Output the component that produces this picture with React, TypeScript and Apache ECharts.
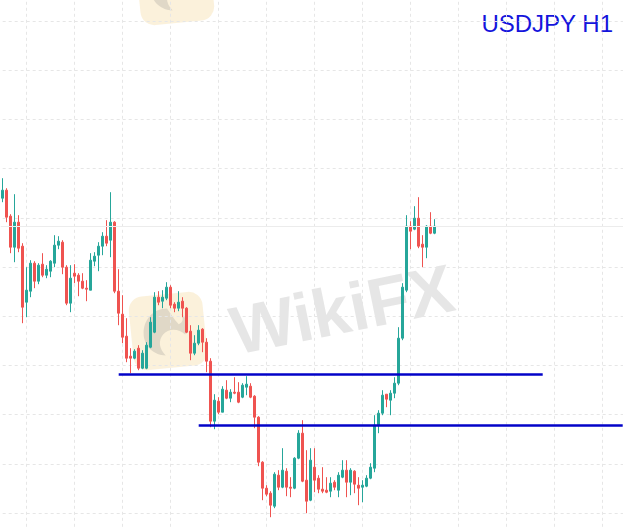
import React, { useEffect, useRef } from "react";
import * as echarts from "echarts";

// ---- data (USDJPY H1) ----
const opens = [
  143.64, 143.72, 143.46, 143.15, 143.40, 143.16, 142.60, 142.71, 142.99, 142.81,
  142.98, 142.87, 142.91, 142.99, 143.17, 143.20, 142.95, 142.59, 142.89, 142.87,
  142.81, 142.74, 142.72, 143.01, 143.07, 143.16, 143.26, 143.22, 143.40, 142.71,
  142.48, 142.26, 142.06, 142.04, 142.14, 141.94, 141.94, 142.15, 142.30, 142.65,
  142.61, 142.64, 142.75, 142.58, 142.54, 142.61, 142.54, 142.31, 142.09, 142.19,
  142.33, 142.20, 142.01, 141.41, 141.61, 141.50, 141.72, 141.64, 141.70, 141.70,
  141.65, 141.75, 141.76, 141.66, 141.45, 141.00, 140.74, 140.69, 140.56, 140.87,
  140.75, 140.91, 140.75, 140.74, 141.04, 141.29, 140.82, 140.62, 140.95, 140.84,
  140.73, 140.72, 140.71, 140.80, 140.72, 140.85, 140.92, 140.80, 140.91, 140.77,
  140.75, 140.76, 140.84, 140.94, 141.37, 141.49, 141.68, 141.62, 141.69, 141.79,
  142.24, 142.72, 143.36, 143.33, 143.44, 143.18, 143.15, 143.36, 143.29,
];
const closes = [
  143.72, 143.45, 143.15, 143.40, 143.14, 142.55, 142.72, 142.99, 142.81, 142.97,
  142.87, 142.93, 143.01, 143.17, 143.21, 142.95, 142.59, 142.84, 142.86, 142.81,
  142.74, 142.73, 143.02, 143.06, 143.16, 143.26, 143.19, 143.40, 142.71, 142.49,
  142.25, 142.04, 142.04, 142.11, 141.94, 142.09, 142.17, 142.40, 142.65, 142.60,
  142.65, 142.75, 142.57, 142.54, 142.60, 142.54, 142.30, 142.09, 142.19, 142.32,
  142.20, 142.01, 141.41, 141.62, 141.50, 141.73, 141.64, 141.70, 141.69, 141.60,
  141.77, 141.78, 141.65, 141.45, 141.00, 140.74, 140.68, 140.57, 140.88, 140.75,
  140.92, 140.75, 140.74, 141.04, 141.29, 140.81, 140.61, 141.02, 140.82, 140.73,
  140.71, 140.70, 140.79, 140.75, 140.87, 140.92, 140.80, 140.92, 140.78, 140.74,
  140.77, 140.84, 140.95, 141.37, 141.49, 141.67, 141.63, 141.69, 141.79, 142.24,
  142.75, 143.36, 143.31, 143.44, 143.16, 143.15, 143.36, 143.29, 143.36,
];
const lows = [
  143.60, 143.40, 143.09, 143.00, 143.10, 142.39, 142.45, 142.65, 142.74, 142.78,
  142.85, 142.84, 142.85, 142.95, 143.13, 142.88, 142.57, 142.50, 142.79, 142.66,
  142.73, 142.61, 142.72, 142.96, 142.91, 143.07, 143.16, 143.05, 142.69, 142.37,
  142.19, 142.00, 141.89, 142.03, 141.92, 141.93, 141.93, 142.14, 142.29, 142.57,
  142.54, 142.62, 142.54, 142.50, 142.51, 142.45, 142.29, 142.02, 142.07, 142.17,
  142.10, 141.90, 141.35, 141.33, 141.48, 141.50, 141.63, 141.60, 141.68, 141.59,
  141.64, 141.67, 141.64, 141.34, 140.96, 140.62, 140.66, 140.45, 140.54, 140.72,
  140.74, 140.66, 140.65, 140.73, 141.03, 140.80, 140.49, 140.61, 140.70, 140.69,
  140.69, 140.69, 140.65, 140.72, 140.65, 140.84, 140.65, 140.67, 140.69, 140.57,
  140.60, 140.75, 140.83, 140.90, 141.29, 141.47, 141.55, 141.47, 141.64, 141.77,
  142.22, 142.70, 143.13, 143.32, 143.14, 142.95, 143.04, 143.28, 143.28,
];
const highs = [
  143.84, 143.74, 143.48, 143.68, 143.47, 143.19, 142.95, 143.02, 143.01, 142.99,
  143.09, 142.97, 143.02, 143.27, 143.26, 143.22, 142.97, 142.97, 142.98, 142.89,
  142.89, 142.82, 143.09, 143.10, 143.20, 143.30, 143.42, 143.70, 143.41, 142.93,
  142.67, 142.44, 142.14, 142.13, 142.17, 142.12, 142.20, 142.45, 142.70, 142.71,
  142.72, 142.80, 142.77, 142.60, 142.71, 142.65, 142.55, 142.37, 142.27, 142.37,
  142.34, 142.24, 142.04, 141.68, 141.65, 141.76, 141.82, 141.73, 141.85, 141.80,
  141.79, 141.86, 141.79, 141.67, 141.46, 141.01, 140.77, 140.71, 140.90, 140.92,
  141.14, 140.94, 140.85, 141.05, 141.32, 141.42, 141.12, 141.14, 141.14, 140.87,
  140.95, 140.85, 140.85, 140.82, 140.90, 141.02, 141.02, 140.94, 140.92, 140.85,
  140.82, 140.87, 140.99, 141.47, 141.52, 141.72, 141.68, 141.72, 141.85, 142.35,
  142.79, 143.47, 143.41, 143.56, 143.65, 143.27, 143.37, 143.50, 143.43,
];

// horizontal levels drawn on the chart
const levelPrices = [141.88, 141.37];
const levelStartIdx = [29, 49];
const levelEndIdx = [135, 155];

const titleText = "USDJPY H1";

// hourly categories (extra empty slots on the right)
const SLOT_COUNT = 156;
const categories: string[] = [];
for (let i = 0; i < SLOT_COUNT; i++) {
  const day = 2 + Math.floor(i / 24);
  const hour = i % 24;
  categories.push(`10-${String(day).padStart(2, "0")} ${String(hour).padStart(2, "0")}:00`);
}

const UP = "#26a69a";
const DOWN = "#ef5350";
const LEVEL_BLUE = "#0303c8";

// the chart div is larger than the page and shifted up/left so that the
// plot area can run past the visible edges
const OFF_X = 22;
const OFF_Y = 30;
const DIV_W = 675;
const DIV_H = 594;

echarts.graphic.registerShape(
  "wkLogo",
  echarts.graphic.extendPath(
    "M20 2 C9 2 2 11 2 21 C2 31 10 38 19 38 C14 33 13 27 17 22 C21 17 29 17 34 22 C37 17 36 10 31 6 C33 10 32 13 29 14 C25 10 23 6 20 2 Z",
    {}
  )
);

function watermark(dx: number, dy: number, withText: boolean) {
  const children: any[] = [
    {
      type: "rect",
      x: 168,
      y: 331,
      rotation: 0.1,
      shape: { x: -37, y: -37, width: 74, height: 74, r: 14 },
      style: { fill: "rgba(240,200,110,0.25)" },
    },
    {
      type: "wkLogo",
      x: 141,
      y: 306,
      scaleX: 1.3,
      scaleY: 1.3,
      style: { fill: "rgba(120,120,120,0.2)" },
    },
  ];
  if (withText) {
    children.push({
      type: "text",
      x: 342,
      y: 309,
      rotation: 0.2,
      style: {
        text: "WikiFX",
        fontSize: 68,
        fontWeight: "bold",
        fontFamily: "Liberation Sans",
        fill: "rgba(100,100,100,0.16)",
        align: "center",
        verticalAlign: "middle",
      },
    });
  }
  return { type: "group", x: dx, y: dy, silent: true, children };
}

export default function App() {
  const ref = useRef<HTMLDivElement>(null);

  useEffect(() => {
    if (!ref.current) return;
    const chart = echarts.init(ref.current, undefined, { renderer: "svg" });

    const gridLine = {
      show: true,
      lineStyle: { color: "#e6e6e6", width: 1, type: [3, 3] },
    };
    const hiddenAxisParts = {
      axisLine: { show: false },
      axisTick: { show: false },
      axisLabel: { show: false },
    };

    const option = {
      animation: false,
      backgroundColor: "#ffffff",
      grid: [
        { left: 22.7, right: 28.3, top: 1.8, bottom: 1.8 },
        { left: 0.7, right: 2.3, top: 1.8, bottom: 1.8 },
      ],
      xAxis: [
        {
          type: "category",
          gridIndex: 0,
          data: categories,
          boundaryGap: true,
          ...hiddenAxisParts,
          splitLine: { show: false },
        },
        {
          type: "value",
          gridIndex: 1,
          min: 0,
          max: 14,
          interval: 1,
          ...hiddenAxisParts,
          splitLine: gridLine,
        },
      ],
      yAxis: [
        {
          type: "value",
          gridIndex: 0,
          min: 140,
          max: 145.904,
          ...hiddenAxisParts,
          splitLine: { show: false },
        },
        {
          type: "value",
          gridIndex: 1,
          min: 0,
          max: 12,
          interval: 1,
          ...hiddenAxisParts,
          splitLine: gridLine,
        },
      ],
      graphic: [
        {
          type: "group",
          x: OFF_X,
          y: OFF_Y,
          z: 1,
          silent: true,
          children: [
            watermark(0, 0, true),
            watermark(7, -345, false),
            {
              type: "text",
              x: 613,
              y: 23,
              style: {
                text: titleText,
                fontSize: 24,
                fontFamily: "Liberation Sans",
                fill: "#1414dc",
                align: "right",
                verticalAlign: "middle",
              },
            },
          ],
        },
      ],
      series: [
        {
          type: "candlestick",
          xAxisIndex: 0,
          yAxisIndex: 0,
          z: 2,
          barWidth: 2,
          data: opens.map((o, i) => [o, closes[i], lows[i], highs[i]]),
          itemStyle: {
            color: UP,
            color0: DOWN,
            borderColor: UP,
            borderColor0: DOWN,
            borderWidth: 1,
          },
          markLine: {
            silent: true,
            symbol: ["none", "none"],
            label: { show: false },
            lineStyle: { color: LEVEL_BLUE, width: 2.5, type: "solid" },
            data: [
              {
                yAxis: closes[closes.length - 1],
                lineStyle: { color: "#ececec", width: 1, type: "solid" },
              },
              ...levelPrices.map((p, k) => [
                { coord: [categories[levelStartIdx[k]], p] },
                { coord: [categories[levelEndIdx[k]], p] },
              ]),
            ],
          },
        },
      ],
    };

    chart.setOption(option as any);
    return () => chart.dispose();
  }, []);

  return (
    <div
      ref={ref}
      style={{
        position: "fixed",
        left: -OFF_X,
        top: -OFF_Y,
        width: DIV_W,
        height: DIV_H,
      }}
    />
  );
}
